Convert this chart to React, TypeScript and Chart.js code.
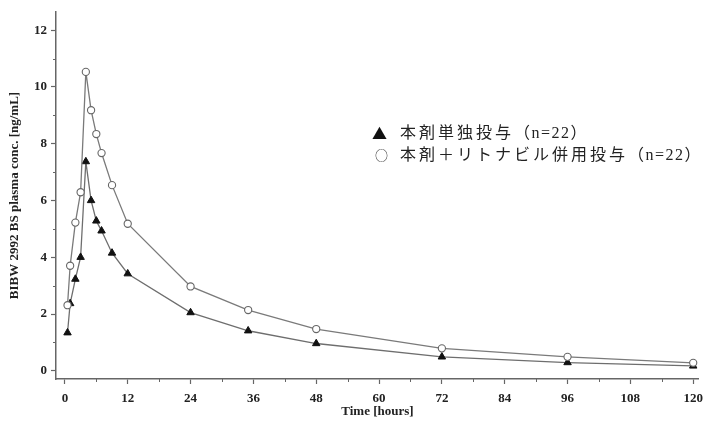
import React, { useEffect, useRef } from 'react';
import { Chart, registerables } from 'chart.js';

Chart.register(...registerables);

// ---- data ----
const sampleTimes = [0.5, 1, 2, 3, 4, 5, 6, 7, 9, 12, 24, 35, 48, 72, 96, 120];
const aloneConc = [1.34, 2.37, 3.23, 4.0, 7.37, 6.0, 5.28, 4.93, 4.15, 3.42, 2.05, 1.41, 0.96, 0.49, 0.29, 0.17];
const comboConc = [2.31, 3.7, 5.22, 6.29, 10.53, 9.18, 8.34, 7.67, 6.54, 5.18, 2.97, 2.14, 1.47, 0.79, 0.49, 0.28];

const xMajorTicks = [0, 12, 24, 36, 48, 60, 72, 84, 96, 108, 120];
const xMinorTicks = [6, 18, 30, 42, 54, 66, 78, 90, 102, 114];
const yMajorTicks = [0, 2, 4, 6, 8, 10, 12];
const yMinorTicks = [1, 3, 5, 7, 9, 11];

const seriesNames = ['本剤単独投与', '本剤＋リトナビル併用投与'];
const seriesCounts = ['（n=22）', '（n=22）'];
const legendMarkers = ['▲', '○'];
const xTitle = 'Time [hours]';
const yTitle = 'BIBW 2992 BS plasma conc. [ng/mL]';

const AXIS_COLOR = '#666';
const TEXT_COLOR = '#222';
const SERIF = '"Liberation Serif", "Times New Roman", serif';

const minorTickPlugin = {
  id: 'minorTicks',
  afterDraw(chart: any) {
    const ctx = chart.ctx;
    const xs = chart.scales.x;
    const ys = chart.scales.y;
    ctx.save();
    ctx.strokeStyle = AXIS_COLOR;
    ctx.lineWidth = 1;
    xMinorTicks.forEach((v) => {
      const px = Math.round(xs.getPixelForValue(v)) + 0.5;
      ctx.beginPath();
      ctx.moveTo(px, xs.top);
      ctx.lineTo(px, xs.top + 3);
      ctx.stroke();
    });
    yMinorTicks.forEach((v) => {
      const py = Math.round(ys.getPixelForValue(v)) + 0.5;
      ctx.beginPath();
      ctx.moveTo(ys.right - 3, py);
      ctx.lineTo(ys.right, py);
      ctx.stroke();
    });
    ctx.restore();
  },
};

export default function App() {
  const canvasRef = useRef<HTMLCanvasElement | null>(null);

  useEffect(() => {
    document.body.style.margin = '0';
    const canvas = canvasRef.current;
    if (!canvas) return;

    const chart = new Chart(canvas, {
      type: 'line',
      data: {
        datasets: [
          {
            label: seriesNames[1] + seriesCounts[1],
            data: sampleTimes.map((t, i) => ({ x: t, y: comboConc[i] })),
            borderColor: '#7a7a7a',
            borderWidth: 1.3,
            pointStyle: 'circle',
            pointRadius: 3.6,
            pointBackgroundColor: '#ffffff',
            pointBorderColor: '#666',
            pointBorderWidth: 1.1,
            tension: 0,
          },
          {
            label: seriesNames[0] + seriesCounts[0],
            data: sampleTimes.map((t, i) => ({ x: t, y: aloneConc[i] })),
            borderColor: '#6e6e6e',
            borderWidth: 1.3,
            pointStyle: 'triangle',
            pointRadius: 4.3,
            pointBackgroundColor: '#111',
            pointBorderColor: '#111',
            pointBorderWidth: 1,
            tension: 0,
          },
        ],
      },
      options: {
        animation: false,
        responsive: false,
        maintainAspectRatio: false,
        layout: { padding: { top: 12, right: 4, left: 0, bottom: 0 } },
        plugins: {
          legend: { display: false },
          tooltip: { enabled: false },
        },
        scales: {
          x: {
            type: 'linear',
            min: -1.7,
            max: 121.1,
            afterBuildTicks: (scale: any) => {
              scale.ticks = xMajorTicks.map((v) => ({ value: v }));
            },
            afterFit: (scale: any) => {
              scale.height = 53;
            },
            ticks: {
              autoSkip: false,
              maxRotation: 0,
              padding: 7,
              color: TEXT_COLOR,
              font: { family: SERIF, size: 13, weight: 'bold' },
              callback: (v: any) => String(v),
            },
            grid: {
              drawOnChartArea: false,
              drawTicks: true,
              tickLength: 5,
              tickColor: AXIS_COLOR,
              tickWidth: 1.2,
            },
            border: { display: true, color: AXIS_COLOR, width: 1.5 },
            title: {
              display: true,
              text: xTitle,
              color: TEXT_COLOR,
              font: { family: SERIF, size: 13, weight: 'bold' },
              padding: { top: 0, bottom: 13 },
            },
          },
          y: {
            type: 'linear',
            min: -0.29,
            max: 12.64,
            afterBuildTicks: (scale: any) => {
              scale.ticks = yMajorTicks.map((v) => ({ value: v }));
            },
            afterFit: (scale: any) => {
              scale.width = 56;
            },
            ticks: {
              autoSkip: false,
              padding: 4,
              color: TEXT_COLOR,
              font: { family: SERIF, size: 13, weight: 'bold' },
              callback: (v: any) => String(v),
            },
            grid: {
              drawOnChartArea: false,
              drawTicks: true,
              tickLength: 5,
              tickColor: AXIS_COLOR,
              tickWidth: 1.2,
            },
            border: { display: true, color: AXIS_COLOR, width: 1.5 },
            title: {
              display: true,
              text: yTitle,
              color: TEXT_COLOR,
              font: { family: SERIF, size: 13, weight: 'bold' },
              padding: { top: 7, bottom: 0 },
            },
          },
        },
      },
      plugins: [minorTickPlugin],
    } as any);

    return () => chart.destroy();
  }, []);

  const legendRow: React.CSSProperties = {
    position: 'absolute',
    left: 400,
    fontFamily: '"Liberation Serif", "Noto Sans CJK JP", serif',
    fontSize: 16,
    color: TEXT_COLOR,
    whiteSpace: 'nowrap',
    lineHeight: '20px',
  };
  const markerStyle: React.CSSProperties = {
    position: 'absolute',
    fontFamily: '"Noto Sans CJK JP", "DejaVu Sans", sans-serif',
    color: '#111',
    lineHeight: '20px',
  };
  const rows = [123, 145];

  return (
    <div style={{ position: 'relative', width: 710, height: 432, background: '#fff' }}>
      <canvas ref={canvasRef} width={710} height={432} style={{ display: 'block', width: 710, height: 432 }} />
      <span style={{ ...markerStyle, left: 372, top: rows[0], fontSize: 15 }}>{legendMarkers[0]}</span>
      <span style={{ ...markerStyle, left: 375, top: rows[1], fontSize: 13, color: '#333' }}>{legendMarkers[1]}</span>
      {seriesNames.map((name, i) => (
        <span key={i} style={{ ...legendRow, top: rows[i] }}>
          <span style={{ letterSpacing: '3px' }}>{name}</span>
          <span style={{ letterSpacing: '1.5px' }}>{seriesCounts[i]}</span>
        </span>
      ))}
    </div>
  );
}
